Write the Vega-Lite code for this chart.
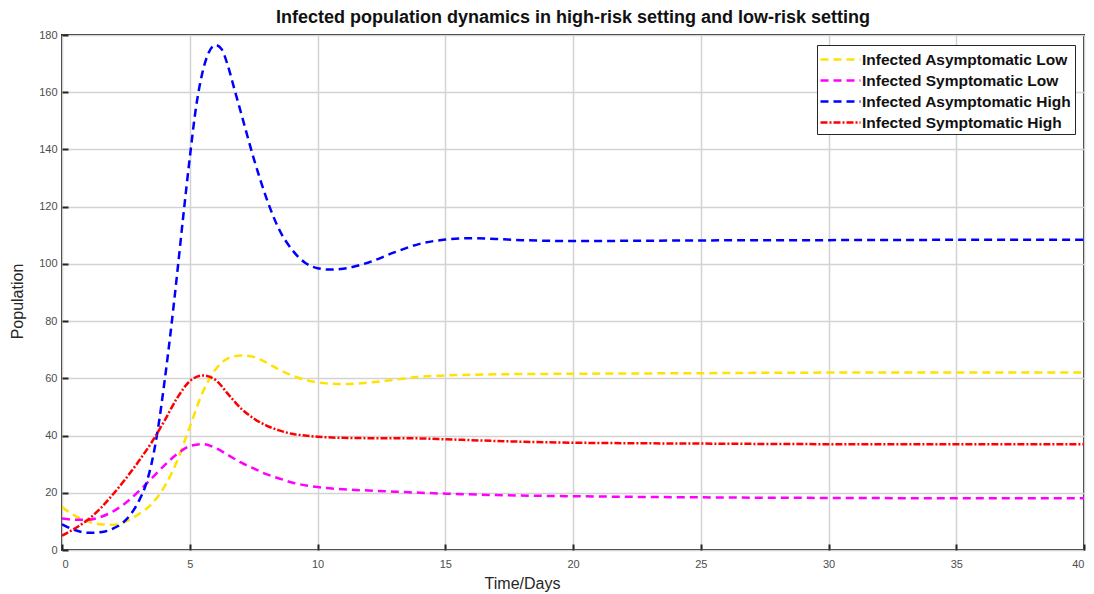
{
  "$schema": "https://vega.github.io/schema/vega-lite/v6.json",
  "width": 1022,
  "height": 515,
  "autosize": {"type": "none"},
  "padding": {"left": 62, "top": 35, "right": 10, "bottom": 44},
  "background": "white",
  "config": {
    "font": "Liberation Sans",
    "view": {"stroke": "#262626", "strokeWidth": 2},
    "axis": {
      "domain": false,
      "grid": true,
      "gridColor": "#d3d3d3",
      "gridWidth": 1.5,
      "tickColor": "#262626",
      "tickWidth": 2,
      "tickSize": -6,
      "labelFont": "Liberation Sans",
      "labelFontSize": 11,
      "labelColor": "#4d4d4d",
      "titleFont": "Liberation Sans",
      "titleFontWeight": "normal",
      "titleColor": "#262626",
      "titleFontSize": 16
    },
    "legend": {
      "orient": "none",
      "legendX": 755,
      "legendY": 10,
      "fillColor": "white",
      "strokeColor": "#262626",
      "padding": 3,
      "symbolType": "M-2,0H2",
      "symbolSize": 400,
      "symbolOffset": 9,
      "symbolStrokeWidth": 2.5,
      "labelFont": "Liberation Sans",
      "labelFontSize": 15.5,
      "labelFontWeight": "bold",
      "labelColor": "#111111",
      "labelOffset": 10,
      "rowPadding": 1,
      "labelLimit": 300
    }
  },
  "title": {
    "text": "Infected population dynamics in high-risk setting and low-risk setting",
    "font": "Liberation Sans",
    "fontSize": 18,
    "fontWeight": "bold",
    "color": "#111111",
    "anchor": "middle",
    "offset": 2
  },
  "data": {
    "values": [
      {"t": 0, "v": 15, "s": "Infected Asymptomatic Low"},
      {"t": 0.5, "v": 12, "s": "Infected Asymptomatic Low"},
      {"t": 1, "v": 10, "s": "Infected Asymptomatic Low"},
      {"t": 1.5, "v": 9, "s": "Infected Asymptomatic Low"},
      {"t": 2, "v": 8.8, "s": "Infected Asymptomatic Low"},
      {"t": 2.5, "v": 10, "s": "Infected Asymptomatic Low"},
      {"t": 3, "v": 12.5, "s": "Infected Asymptomatic Low"},
      {"t": 3.5, "v": 16, "s": "Infected Asymptomatic Low"},
      {"t": 4, "v": 22, "s": "Infected Asymptomatic Low"},
      {"t": 4.5, "v": 31, "s": "Infected Asymptomatic Low"},
      {"t": 5, "v": 43, "s": "Infected Asymptomatic Low"},
      {"t": 5.5, "v": 55, "s": "Infected Asymptomatic Low"},
      {"t": 6, "v": 63, "s": "Infected Asymptomatic Low"},
      {"t": 6.5, "v": 67, "s": "Infected Asymptomatic Low"},
      {"t": 7, "v": 68, "s": "Infected Asymptomatic Low"},
      {"t": 7.5, "v": 67.5, "s": "Infected Asymptomatic Low"},
      {"t": 8, "v": 65.5, "s": "Infected Asymptomatic Low"},
      {"t": 8.5, "v": 63, "s": "Infected Asymptomatic Low"},
      {"t": 9, "v": 61, "s": "Infected Asymptomatic Low"},
      {"t": 9.5, "v": 59.5, "s": "Infected Asymptomatic Low"},
      {"t": 10, "v": 58.6, "s": "Infected Asymptomatic Low"},
      {"t": 11, "v": 58, "s": "Infected Asymptomatic Low"},
      {"t": 12, "v": 58.5, "s": "Infected Asymptomatic Low"},
      {"t": 13, "v": 59.5, "s": "Infected Asymptomatic Low"},
      {"t": 14, "v": 60.5, "s": "Infected Asymptomatic Low"},
      {"t": 15, "v": 61, "s": "Infected Asymptomatic Low"},
      {"t": 17, "v": 61.4, "s": "Infected Asymptomatic Low"},
      {"t": 20, "v": 61.6, "s": "Infected Asymptomatic Low"},
      {"t": 25, "v": 61.8, "s": "Infected Asymptomatic Low"},
      {"t": 30, "v": 62, "s": "Infected Asymptomatic Low"},
      {"t": 35, "v": 62, "s": "Infected Asymptomatic Low"},
      {"t": 40, "v": 62, "s": "Infected Asymptomatic Low"},

      {"t": 0, "v": 11, "s": "Infected Symptomatic Low"},
      {"t": 0.5, "v": 10.6, "s": "Infected Symptomatic Low"},
      {"t": 1, "v": 10.6, "s": "Infected Symptomatic Low"},
      {"t": 1.5, "v": 11.5, "s": "Infected Symptomatic Low"},
      {"t": 2, "v": 13.5, "s": "Infected Symptomatic Low"},
      {"t": 2.5, "v": 16.5, "s": "Infected Symptomatic Low"},
      {"t": 3, "v": 20.5, "s": "Infected Symptomatic Low"},
      {"t": 3.5, "v": 25, "s": "Infected Symptomatic Low"},
      {"t": 4, "v": 29.5, "s": "Infected Symptomatic Low"},
      {"t": 4.5, "v": 33.5, "s": "Infected Symptomatic Low"},
      {"t": 5, "v": 36.3, "s": "Infected Symptomatic Low"},
      {"t": 5.5, "v": 37, "s": "Infected Symptomatic Low"},
      {"t": 6, "v": 35.7, "s": "Infected Symptomatic Low"},
      {"t": 6.5, "v": 33.2, "s": "Infected Symptomatic Low"},
      {"t": 7, "v": 30.6, "s": "Infected Symptomatic Low"},
      {"t": 7.5, "v": 28.5, "s": "Infected Symptomatic Low"},
      {"t": 8, "v": 26.5, "s": "Infected Symptomatic Low"},
      {"t": 8.5, "v": 25, "s": "Infected Symptomatic Low"},
      {"t": 9, "v": 23.6, "s": "Infected Symptomatic Low"},
      {"t": 10, "v": 22, "s": "Infected Symptomatic Low"},
      {"t": 11, "v": 21.2, "s": "Infected Symptomatic Low"},
      {"t": 12, "v": 20.8, "s": "Infected Symptomatic Low"},
      {"t": 13, "v": 20.4, "s": "Infected Symptomatic Low"},
      {"t": 15, "v": 19.7, "s": "Infected Symptomatic Low"},
      {"t": 17, "v": 19.2, "s": "Infected Symptomatic Low"},
      {"t": 20, "v": 18.8, "s": "Infected Symptomatic Low"},
      {"t": 25, "v": 18.4, "s": "Infected Symptomatic Low"},
      {"t": 30, "v": 18.2, "s": "Infected Symptomatic Low"},
      {"t": 35, "v": 18.1, "s": "Infected Symptomatic Low"},
      {"t": 40, "v": 18.1, "s": "Infected Symptomatic Low"},

      {"t": 0, "v": 9, "s": "Infected Asymptomatic High"},
      {"t": 0.5, "v": 7, "s": "Infected Asymptomatic High"},
      {"t": 1, "v": 6, "s": "Infected Asymptomatic High"},
      {"t": 1.5, "v": 6.2, "s": "Infected Asymptomatic High"},
      {"t": 2, "v": 7.5, "s": "Infected Asymptomatic High"},
      {"t": 2.5, "v": 10.5, "s": "Infected Asymptomatic High"},
      {"t": 3, "v": 17, "s": "Infected Asymptomatic High"},
      {"t": 3.25, "v": 22, "s": "Infected Asymptomatic High"},
      {"t": 3.5, "v": 30, "s": "Infected Asymptomatic High"},
      {"t": 3.75, "v": 42, "s": "Infected Asymptomatic High"},
      {"t": 4, "v": 58, "s": "Infected Asymptomatic High"},
      {"t": 4.25, "v": 76, "s": "Infected Asymptomatic High"},
      {"t": 4.5, "v": 96, "s": "Infected Asymptomatic High"},
      {"t": 4.75, "v": 117, "s": "Infected Asymptomatic High"},
      {"t": 5, "v": 137, "s": "Infected Asymptomatic High"},
      {"t": 5.25, "v": 155, "s": "Infected Asymptomatic High"},
      {"t": 5.5, "v": 167, "s": "Infected Asymptomatic High"},
      {"t": 5.75, "v": 174, "s": "Infected Asymptomatic High"},
      {"t": 6, "v": 176.5, "s": "Infected Asymptomatic High"},
      {"t": 6.25, "v": 175, "s": "Infected Asymptomatic High"},
      {"t": 6.5, "v": 169, "s": "Infected Asymptomatic High"},
      {"t": 6.75, "v": 161, "s": "Infected Asymptomatic High"},
      {"t": 7, "v": 153, "s": "Infected Asymptomatic High"},
      {"t": 7.5, "v": 137, "s": "Infected Asymptomatic High"},
      {"t": 8, "v": 123, "s": "Infected Asymptomatic High"},
      {"t": 8.5, "v": 112, "s": "Infected Asymptomatic High"},
      {"t": 9, "v": 105, "s": "Infected Asymptomatic High"},
      {"t": 9.5, "v": 100.5, "s": "Infected Asymptomatic High"},
      {"t": 10, "v": 98.5, "s": "Infected Asymptomatic High"},
      {"t": 10.5, "v": 98, "s": "Infected Asymptomatic High"},
      {"t": 11, "v": 98.3, "s": "Infected Asymptomatic High"},
      {"t": 12, "v": 100.5, "s": "Infected Asymptomatic High"},
      {"t": 13, "v": 104, "s": "Infected Asymptomatic High"},
      {"t": 14, "v": 107, "s": "Infected Asymptomatic High"},
      {"t": 15, "v": 108.5, "s": "Infected Asymptomatic High"},
      {"t": 16, "v": 109, "s": "Infected Asymptomatic High"},
      {"t": 17, "v": 108.7, "s": "Infected Asymptomatic High"},
      {"t": 18, "v": 108.3, "s": "Infected Asymptomatic High"},
      {"t": 20, "v": 108, "s": "Infected Asymptomatic High"},
      {"t": 25, "v": 108.2, "s": "Infected Asymptomatic High"},
      {"t": 30, "v": 108.3, "s": "Infected Asymptomatic High"},
      {"t": 35, "v": 108.4, "s": "Infected Asymptomatic High"},
      {"t": 40, "v": 108.4, "s": "Infected Asymptomatic High"},

      {"t": 0, "v": 5, "s": "Infected Symptomatic High"},
      {"t": 0.5, "v": 7.5, "s": "Infected Symptomatic High"},
      {"t": 1, "v": 10.5, "s": "Infected Symptomatic High"},
      {"t": 1.5, "v": 14.5, "s": "Infected Symptomatic High"},
      {"t": 2, "v": 19.5, "s": "Infected Symptomatic High"},
      {"t": 2.5, "v": 25, "s": "Infected Symptomatic High"},
      {"t": 3, "v": 31, "s": "Infected Symptomatic High"},
      {"t": 3.5, "v": 37.5, "s": "Infected Symptomatic High"},
      {"t": 4, "v": 45, "s": "Infected Symptomatic High"},
      {"t": 4.5, "v": 53, "s": "Infected Symptomatic High"},
      {"t": 5, "v": 59, "s": "Infected Symptomatic High"},
      {"t": 5.5, "v": 61, "s": "Infected Symptomatic High"},
      {"t": 6, "v": 59.5, "s": "Infected Symptomatic High"},
      {"t": 6.5, "v": 54.5, "s": "Infected Symptomatic High"},
      {"t": 7, "v": 49.5, "s": "Infected Symptomatic High"},
      {"t": 7.5, "v": 46, "s": "Infected Symptomatic High"},
      {"t": 8, "v": 43.5, "s": "Infected Symptomatic High"},
      {"t": 8.5, "v": 41.8, "s": "Infected Symptomatic High"},
      {"t": 9, "v": 40.6, "s": "Infected Symptomatic High"},
      {"t": 9.5, "v": 40, "s": "Infected Symptomatic High"},
      {"t": 10, "v": 39.6, "s": "Infected Symptomatic High"},
      {"t": 11, "v": 39.2, "s": "Infected Symptomatic High"},
      {"t": 12, "v": 39.1, "s": "Infected Symptomatic High"},
      {"t": 13, "v": 39.1, "s": "Infected Symptomatic High"},
      {"t": 14, "v": 39, "s": "Infected Symptomatic High"},
      {"t": 15, "v": 38.7, "s": "Infected Symptomatic High"},
      {"t": 17, "v": 38.1, "s": "Infected Symptomatic High"},
      {"t": 20, "v": 37.5, "s": "Infected Symptomatic High"},
      {"t": 25, "v": 37.2, "s": "Infected Symptomatic High"},
      {"t": 30, "v": 37, "s": "Infected Symptomatic High"},
      {"t": 35, "v": 37, "s": "Infected Symptomatic High"},
      {"t": 40, "v": 37, "s": "Infected Symptomatic High"}
    ]
  },
  "mark": {"type": "line", "strokeWidth": 2.5, "interpolate": "monotone", "clip": true},
  "encoding": {
    "x": {
      "field": "t",
      "type": "quantitative",
      "scale": {"domain": [0, 40], "nice": false},
      "axis": {"values": [0, 5, 10, 15, 20, 25, 30, 35, 40], "title": "Time/Days", "labelPadding": 14, "titlePadding": 6, "titleX": 460}
    },
    "y": {
      "field": "v",
      "type": "quantitative",
      "scale": {"domain": [0, 180], "nice": false},
      "axis": {"values": [0, 20, 40, 60, 80, 100, 120, 140, 160, 180], "title": "Population", "labelPadding": 11, "titlePadding": 13, "titleY": 266}
    },
    "color": {
      "field": "s",
      "type": "nominal",
      "scale": {
        "domain": ["Infected Asymptomatic Low", "Infected Symptomatic Low", "Infected Asymptomatic High", "Infected Symptomatic High"],
        "range": ["#ffe200", "#ff00ff", "#0000ff", "#ff0000"]
      },
      "legend": {"title": null}
    },
    "strokeDash": {
      "field": "s",
      "type": "nominal",
      "scale": {
        "domain": ["Infected Asymptomatic Low", "Infected Symptomatic Low", "Infected Asymptomatic High", "Infected Symptomatic High"],
        "range": [[8, 5], [8, 5], [8, 5], [7, 2, 2, 2]]
      },
      "legend": {"title": null}
    }
  }
}
